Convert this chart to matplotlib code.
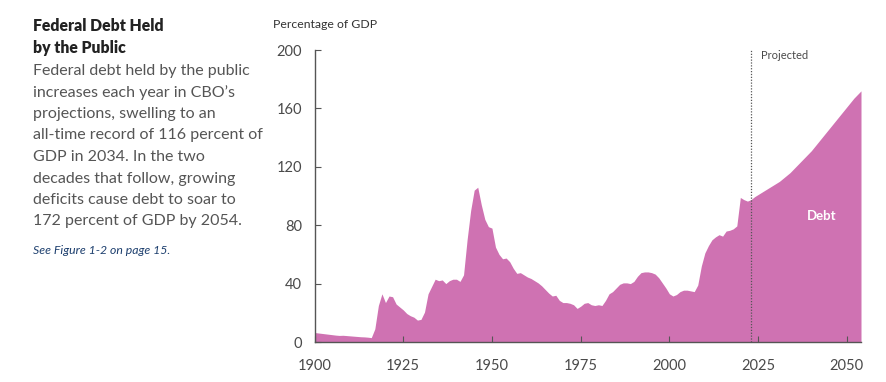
import matplotlib
matplotlib.use("Agg")
import matplotlib.pyplot as plt
import numpy as np

plt.rcParams['font.family'] = ['Lato', 'DejaVu Sans']

years = list(range(1900, 2055))
debt = [
    # 1900-1909
    6.5, 6.2, 5.9, 5.6, 5.3, 5.0, 4.7, 4.5, 4.6, 4.4,
    # 1910-1919
    4.2, 4.0, 3.8, 3.6, 3.5, 3.3, 3.0, 9.0, 25.0, 33.0,
    # 1920-1929
    27.0, 31.5, 31.0, 26.0, 24.0, 22.0, 19.5, 18.0, 17.0, 15.0,
    # 1930-1939
    15.5, 20.5, 33.0, 38.0, 43.0, 42.0, 42.5, 40.0, 42.0, 43.0,
    # 1940-1949
    43.0, 41.5, 46.0, 70.0, 90.0, 104.0, 106.0, 94.0, 84.0, 79.0,
    # 1950-1959
    78.0, 65.0, 60.0, 57.0, 57.5, 55.0, 50.5, 47.0, 47.5, 46.0,
    # 1960-1969
    44.5, 43.5, 42.0, 40.5, 38.5, 36.0, 33.5, 31.5, 32.0, 28.5,
    # 1970-1979
    27.0, 27.0, 26.5, 25.5, 23.0, 24.5, 26.5, 27.0, 25.5, 25.0,
    # 1980-1989
    25.5, 25.0, 28.5, 33.0, 34.5, 37.0, 39.5, 40.5, 40.5, 40.0,
    # 1990-1999
    41.5, 45.0, 47.5, 48.0, 48.0, 47.5, 46.5, 44.0, 40.5, 37.0,
    # 2000-2009
    33.0, 31.5, 32.5, 34.5, 35.5, 35.5, 35.0, 34.5, 39.0, 52.0,
    # 2010-2019
    61.0, 66.0, 70.0, 72.0, 73.5, 72.5, 76.0, 76.5, 77.5, 79.5,
    # 2020-2029
    99.0, 97.5, 96.5, 97.5, 99.5, 101.0, 102.5, 104.0, 105.5, 107.0,
    # 2030-2039
    108.5, 110.0, 112.0, 114.0, 116.0, 118.5, 121.0, 123.5, 126.0, 128.5,
    # 2040-2049
    131.0, 134.0, 137.0, 140.0, 143.0, 146.0, 149.0, 152.0, 155.0, 158.0,
    # 2050-2054
    161.0, 164.0, 167.0, 169.5, 172.0,
]
yticks = [0, 40, 80, 120, 160, 200]
xticks = [1900, 1925, 1950, 1975, 2000, 2025, 2050]
projection_start = 2023

title_lines = ["Federal Debt Held", "by the Public"]
body_lines = [
    "Federal debt held by the public",
    "increases each year in CBO\u2019s",
    "projections, swelling to an",
    "all-time record of 116 percent of",
    "GDP in 2034. In the two",
    "decades that follow, growing",
    "deficits cause debt to soar to",
    "172 percent of GDP by 2054.",
]
note = "See Figure 1-2 on page 15."

fill_color = "#cf72b2"
axis_color = "#555555"
text_color = "#4a4a4a"

W, H = 887, 382
fig = plt.figure(figsize=(W / 100, H / 100), dpi=100)

# axes: x 1900 at px 314.5, 2054 at px 861; y 0 at px 342, 200 at px 50
x0_px, x1_px = 314.5, 861.0
y0_px, y1_px = 342.0, 50.0
ax = fig.add_axes([x0_px / W, 1 - y0_px / H, (x1_px - x0_px) / W, (y0_px - y1_px) / H])
ax.fill_between(years, debt, 0, color=fill_color, linewidth=0)
ax.set_xlim(1900, 2054)
ax.set_ylim(0, 200)

for s in ["top", "right"]:
    ax.spines[s].set_visible(False)
for s in ["left", "bottom"]:
    ax.spines[s].set_color(axis_color)
    ax.spines[s].set_linewidth(1.0)

ax.set_yticks(yticks)
ax.set_xticks(xticks)
ax.tick_params(axis="both", direction="in", length=4, width=0.8, color=axis_color,
               labelcolor=text_color, labelsize=10.5)
ax.tick_params(axis="y", pad=9)
ax.tick_params(axis="x", pad=12)
ax.set_axisbelow(False)

ax.axvline(projection_start, ymin=0, ymax=1, color="#555555", linestyle=(0, (1, 1.3)),
           linewidth=0.9)
ax.text(projection_start + 2.7, 196, "Projected", fontsize=8, color=text_color,
        va="center", ha="left")
ax.text(2043, 86, "Debt", fontsize=9.5, color="white", fontweight="bold",
        ha="center", va="center")

fig.text(273 / W, 1 - 24 / H, "Percentage of GDP", fontsize=8.8, color="#333333",
         ha="left", va="center")

# left text panel
for i, line in enumerate(title_lines):
    fig.text(33 / W, 1 - (26 + i * 22) / H, line, fontsize=11.3, fontweight="heavy",
             color="#222222", ha="left", va="center")
for i, line in enumerate(body_lines):
    fig.text(33 / W, 1 - (71 + i * 21.5) / H, line, fontsize=11.5, color="#555555",
             ha="left", va="center")
fig.text(33 / W, 1 - 250 / H, note, fontsize=8.8, color="#1d3f6e", style="italic",
         ha="left", va="center")

fig.savefig("out.png", dpi=100)
